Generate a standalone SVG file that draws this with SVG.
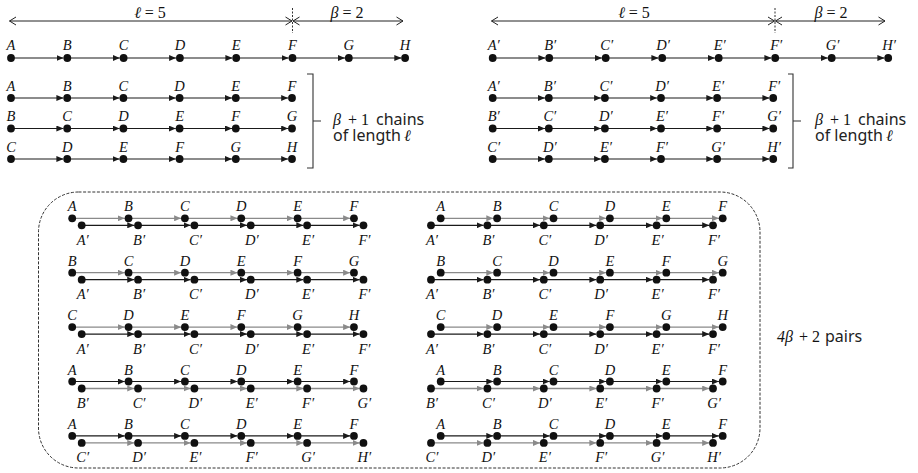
<svg xmlns="http://www.w3.org/2000/svg" width="918" height="473" viewBox="0 0 918 473">
<style>
.bg{fill:#fff}
.dot{fill:#111}
.lab{font-family:"Liberation Serif","DejaVu Serif",serif;font-style:italic;font-size:14.5px;text-anchor:middle;fill:#111}
.math{font-family:"Liberation Serif","DejaVu Serif",serif;font-size:16px;fill:#111}
.it{font-style:italic}
.txt{font-family:"Noto Sans","Liberation Sans",sans-serif;font-size:16px;fill:#222}
.k{stroke:#1a1a1a;stroke-width:1.2;marker-end:url(#ak)}
.g{stroke:#8a8a8a;stroke-width:1.3;marker-end:url(#ag)}
.dim{stroke:#222;stroke-width:1;fill:none;marker-start:url(#open);marker-end:url(#open)}
.dotted{stroke:#333;stroke-width:1;stroke-dasharray:2 1.5}
.br{stroke:#333;stroke-width:1.1;fill:none}
.box{fill:none;stroke:#333;stroke-width:1;stroke-dasharray:3 1.6}
</style>
<defs>
<marker id="ak" markerUnits="userSpaceOnUse" markerWidth="7" markerHeight="6" refX="7" refY="3" orient="auto"><path d="M0,0 L7,3 L0,6 z" fill="#1a1a1a"/></marker>
<marker id="ag" markerUnits="userSpaceOnUse" markerWidth="7" markerHeight="6" refX="7" refY="3" orient="auto"><path d="M0,0 L7,3 L0,6 z" fill="#8a8a8a"/></marker>
<marker id="open" markerUnits="userSpaceOnUse" markerWidth="8" markerHeight="10" refX="7" refY="5" orient="auto-start-reverse"><path d="M0.5,1 L7,5 L0.5,9" fill="none" stroke="#222" stroke-width="1"/></marker>
</defs>
<rect class="bg" width="918" height="473"/>

<!-- dimension arrows -->
<g id="dims">
<line class="dim" x1="9.5" y1="21" x2="292" y2="21"/>
<line class="dim" x1="293" y1="21" x2="403" y2="21"/>
<line class="dotted" x1="292.5" y1="8" x2="292.5" y2="33"/>
<text class="math" x="150" y="18" text-anchor="middle"><tspan class="it">ℓ</tspan> = 5</text>
<text class="math" x="347" y="18" text-anchor="middle"><tspan class="it">β</tspan> = 2</text>
<line class="dim" x1="491.5" y1="21" x2="774.5" y2="21"/>
<line class="dim" x1="775.5" y1="21" x2="885" y2="21"/>
<line class="dotted" x1="775" y1="8" x2="775" y2="33"/>
<text class="math" x="634" y="18" text-anchor="middle"><tspan class="it">ℓ</tspan> = 5</text>
<text class="math" x="831" y="18" text-anchor="middle"><tspan class="it">β</tspan> = 2</text>
</g>

<!-- connectors -->
<g id="connectors">
<g transform="translate(0,58)">
<line class="k" x1="11" y1="0" x2="63.5" y2="0"/><line class="k" x1="67.3" y1="0" x2="119.8" y2="0"/><line class="k" x1="123.6" y1="0" x2="176.1" y2="0"/><line class="k" x1="179.9" y1="0" x2="232.4" y2="0"/><line class="k" x1="236.2" y1="0" x2="288.7" y2="0"/><line class="k" x1="292.5" y1="0" x2="345" y2="0"/><line class="k" x1="348.8" y1="0" x2="401.3" y2="0"/>
<line class="k" x1="492.7" y1="0" x2="545.4" y2="0"/><line class="k" x1="549.2" y1="0" x2="601.9" y2="0"/><line class="k" x1="605.7" y1="0" x2="658.4" y2="0"/><line class="k" x1="662.2" y1="0" x2="714.9" y2="0"/><line class="k" x1="718.7" y1="0" x2="771.4" y2="0"/><line class="k" x1="775.2" y1="0" x2="827.9" y2="0"/><line class="k" x1="831.7" y1="0" x2="884.4" y2="0"/>
</g>
<g id="chainsegsL">
<line class="k" x1="11" y1="98" x2="63.4" y2="98"/><line class="k" x1="67.2" y1="98" x2="119.6" y2="98"/><line class="k" x1="123.4" y1="98" x2="175.8" y2="98"/><line class="k" x1="179.6" y1="98" x2="232" y2="98"/><line class="k" x1="235.8" y1="98" x2="288.2" y2="98"/>
<line class="k" x1="11" y1="128.5" x2="63.4" y2="128.5"/><line class="k" x1="67.2" y1="128.5" x2="119.6" y2="128.5"/><line class="k" x1="123.4" y1="128.5" x2="175.8" y2="128.5"/><line class="k" x1="179.6" y1="128.5" x2="232" y2="128.5"/><line class="k" x1="235.8" y1="128.5" x2="288.2" y2="128.5"/>
<line class="k" x1="11" y1="159" x2="63.4" y2="159"/><line class="k" x1="67.2" y1="159" x2="119.6" y2="159"/><line class="k" x1="123.4" y1="159" x2="175.8" y2="159"/><line class="k" x1="179.6" y1="159" x2="232" y2="159"/><line class="k" x1="235.8" y1="159" x2="288.2" y2="159"/>
</g>
<g id="chainsegsR">
<line class="k" x1="492.7" y1="98" x2="545" y2="98"/><line class="k" x1="548.8" y1="98" x2="601.1" y2="98"/><line class="k" x1="604.9" y1="98" x2="657.2" y2="98"/><line class="k" x1="661" y1="98" x2="713.3" y2="98"/><line class="k" x1="717.1" y1="98" x2="769.4" y2="98"/>
<line class="k" x1="492.7" y1="128.5" x2="545" y2="128.5"/><line class="k" x1="548.8" y1="128.5" x2="601.1" y2="128.5"/><line class="k" x1="604.9" y1="128.5" x2="657.2" y2="128.5"/><line class="k" x1="661" y1="128.5" x2="713.3" y2="128.5"/><line class="k" x1="717.1" y1="128.5" x2="769.4" y2="128.5"/>
<line class="k" x1="492.7" y1="159" x2="545" y2="159"/><line class="k" x1="548.8" y1="159" x2="601.1" y2="159"/><line class="k" x1="604.9" y1="159" x2="657.2" y2="159"/><line class="k" x1="661" y1="159" x2="713.3" y2="159"/><line class="k" x1="717.1" y1="159" x2="769.4" y2="159"/>
</g>

<!-- pair segments: upper rows -->
<g id="pu1" transform="translate(0,218.3)">
<line class="g" x1="72.2" y1="0" x2="124.75" y2="0"/><line class="g" x1="128.55" y1="0" x2="181.1" y2="0"/><line class="g" x1="184.9" y1="0" x2="237.45" y2="0"/><line class="g" x1="241.25" y1="0" x2="293.8" y2="0"/><line class="g" x1="297.6" y1="0" x2="350.15" y2="0"/>
<line class="g" x1="440.7" y1="0" x2="493.3" y2="0"/><line class="g" x1="497.1" y1="0" x2="549.7" y2="0"/><line class="g" x1="553.5" y1="0" x2="606.1" y2="0"/><line class="g" x1="609.9" y1="0" x2="662.5" y2="0"/><line class="g" x1="666.3" y1="0" x2="718.9" y2="0"/>
</g>
<g id="pu2" transform="translate(0,272.7)">
<line class="g" x1="72.2" y1="0" x2="124.75" y2="0"/><line class="g" x1="128.55" y1="0" x2="181.1" y2="0"/><line class="g" x1="184.9" y1="0" x2="237.45" y2="0"/><line class="g" x1="241.25" y1="0" x2="293.8" y2="0"/><line class="g" x1="297.6" y1="0" x2="350.15" y2="0"/>
<line class="g" x1="440.7" y1="0" x2="493.3" y2="0"/><line class="g" x1="497.1" y1="0" x2="549.7" y2="0"/><line class="g" x1="553.5" y1="0" x2="606.1" y2="0"/><line class="g" x1="609.9" y1="0" x2="662.5" y2="0"/><line class="g" x1="666.3" y1="0" x2="718.9" y2="0"/>
</g>
<g id="pu3" transform="translate(0,327.1)">
<line class="g" x1="72.2" y1="0" x2="124.75" y2="0"/><line class="g" x1="128.55" y1="0" x2="181.1" y2="0"/><line class="g" x1="184.9" y1="0" x2="237.45" y2="0"/><line class="g" x1="241.25" y1="0" x2="293.8" y2="0"/><line class="g" x1="297.6" y1="0" x2="350.15" y2="0"/>
<line class="g" x1="440.7" y1="0" x2="493.3" y2="0"/><line class="g" x1="497.1" y1="0" x2="549.7" y2="0"/><line class="g" x1="553.5" y1="0" x2="606.1" y2="0"/><line class="g" x1="609.9" y1="0" x2="662.5" y2="0"/><line class="g" x1="666.3" y1="0" x2="718.9" y2="0"/>
</g>
<g id="pu4" transform="translate(0,381.5)">
<line class="k" x1="72.2" y1="0" x2="124.75" y2="0"/><line class="k" x1="128.55" y1="0" x2="181.1" y2="0"/><line class="k" x1="184.9" y1="0" x2="237.45" y2="0"/><line class="k" x1="241.25" y1="0" x2="293.8" y2="0"/><line class="k" x1="297.6" y1="0" x2="350.15" y2="0"/>
<line class="k" x1="440.7" y1="0" x2="493.3" y2="0"/><line class="k" x1="497.1" y1="0" x2="549.7" y2="0"/><line class="k" x1="553.5" y1="0" x2="606.1" y2="0"/><line class="k" x1="609.9" y1="0" x2="662.5" y2="0"/><line class="k" x1="666.3" y1="0" x2="718.9" y2="0"/>
</g>
<g id="pu5" transform="translate(0,435.9)">
<line class="k" x1="72.2" y1="0" x2="124.75" y2="0"/><line class="k" x1="128.55" y1="0" x2="181.1" y2="0"/><line class="k" x1="184.9" y1="0" x2="237.45" y2="0"/><line class="k" x1="241.25" y1="0" x2="293.8" y2="0"/><line class="k" x1="297.6" y1="0" x2="350.15" y2="0"/>
<line class="k" x1="440.7" y1="0" x2="493.3" y2="0"/><line class="k" x1="497.1" y1="0" x2="549.7" y2="0"/><line class="k" x1="553.5" y1="0" x2="606.1" y2="0"/><line class="k" x1="609.9" y1="0" x2="662.5" y2="0"/><line class="k" x1="666.3" y1="0" x2="718.9" y2="0"/>
</g>
<!-- pair segments: lower rows -->
<g id="pl1" transform="translate(0,225.3)">
<line class="k" x1="81.7" y1="0" x2="134.25" y2="0"/><line class="k" x1="138.05" y1="0" x2="190.6" y2="0"/><line class="k" x1="194.4" y1="0" x2="246.95" y2="0"/><line class="k" x1="250.75" y1="0" x2="303.3" y2="0"/><line class="k" x1="307.1" y1="0" x2="359.65" y2="0"/>
<line class="k" x1="431" y1="0" x2="483.6" y2="0"/><line class="k" x1="487.4" y1="0" x2="540" y2="0"/><line class="k" x1="543.8" y1="0" x2="596.4" y2="0"/><line class="k" x1="600.2" y1="0" x2="652.8" y2="0"/><line class="k" x1="656.6" y1="0" x2="709.2" y2="0"/>
</g>
<g id="pl2" transform="translate(0,279.7)">
<line class="k" x1="81.7" y1="0" x2="134.25" y2="0"/><line class="k" x1="138.05" y1="0" x2="190.6" y2="0"/><line class="k" x1="194.4" y1="0" x2="246.95" y2="0"/><line class="k" x1="250.75" y1="0" x2="303.3" y2="0"/><line class="k" x1="307.1" y1="0" x2="359.65" y2="0"/>
<line class="k" x1="431" y1="0" x2="483.6" y2="0"/><line class="k" x1="487.4" y1="0" x2="540" y2="0"/><line class="k" x1="543.8" y1="0" x2="596.4" y2="0"/><line class="k" x1="600.2" y1="0" x2="652.8" y2="0"/><line class="k" x1="656.6" y1="0" x2="709.2" y2="0"/>
</g>
<g id="pl3" transform="translate(0,334.1)">
<line class="k" x1="81.7" y1="0" x2="134.25" y2="0"/><line class="k" x1="138.05" y1="0" x2="190.6" y2="0"/><line class="k" x1="194.4" y1="0" x2="246.95" y2="0"/><line class="k" x1="250.75" y1="0" x2="303.3" y2="0"/><line class="k" x1="307.1" y1="0" x2="359.65" y2="0"/>
<line class="k" x1="431" y1="0" x2="483.6" y2="0"/><line class="k" x1="487.4" y1="0" x2="540" y2="0"/><line class="k" x1="543.8" y1="0" x2="596.4" y2="0"/><line class="k" x1="600.2" y1="0" x2="652.8" y2="0"/><line class="k" x1="656.6" y1="0" x2="709.2" y2="0"/>
</g>
<g id="pl4" transform="translate(0,388.5)">
<line class="g" x1="81.7" y1="0" x2="134.25" y2="0"/><line class="g" x1="138.05" y1="0" x2="190.6" y2="0"/><line class="g" x1="194.4" y1="0" x2="246.95" y2="0"/><line class="g" x1="250.75" y1="0" x2="303.3" y2="0"/><line class="g" x1="307.1" y1="0" x2="359.65" y2="0"/>
<line class="g" x1="431" y1="0" x2="483.6" y2="0"/><line class="g" x1="487.4" y1="0" x2="540" y2="0"/><line class="g" x1="543.8" y1="0" x2="596.4" y2="0"/><line class="g" x1="600.2" y1="0" x2="652.8" y2="0"/><line class="g" x1="656.6" y1="0" x2="709.2" y2="0"/>
</g>
<g id="pl5" transform="translate(0,442.9)">
<line class="g" x1="81.7" y1="0" x2="134.25" y2="0"/><line class="g" x1="138.05" y1="0" x2="190.6" y2="0"/><line class="g" x1="194.4" y1="0" x2="246.95" y2="0"/><line class="g" x1="250.75" y1="0" x2="303.3" y2="0"/><line class="g" x1="307.1" y1="0" x2="359.65" y2="0"/>
<line class="g" x1="431" y1="0" x2="483.6" y2="0"/><line class="g" x1="487.4" y1="0" x2="540" y2="0"/><line class="g" x1="543.8" y1="0" x2="596.4" y2="0"/><line class="g" x1="600.2" y1="0" x2="652.8" y2="0"/><line class="g" x1="656.6" y1="0" x2="709.2" y2="0"/>
</g>
</g>

<!-- top rows -->
<g id="row-top-left">
<g class="dot"><circle cx="11" cy="58" r="3.9"/><circle cx="67.3" cy="58" r="3.9"/><circle cx="123.6" cy="58" r="3.9"/><circle cx="179.9" cy="58" r="3.9"/><circle cx="236.2" cy="58" r="3.9"/><circle cx="292.5" cy="58" r="3.9"/><circle cx="348.8" cy="58" r="3.9"/><circle cx="405.1" cy="58" r="3.9"/></g>
<g class="lab"><text x="11" y="50">A</text><text x="67.3" y="50">B</text><text x="123.6" y="50">C</text><text x="179.9" y="50">D</text><text x="236.2" y="50">E</text><text x="292.5" y="50">F</text><text x="348.8" y="50">G</text><text x="405.1" y="50">H</text></g>
</g>
<g id="row-top-right">
<g class="dot"><circle cx="492.7" cy="58" r="3.9"/><circle cx="549.2" cy="58" r="3.9"/><circle cx="605.7" cy="58" r="3.9"/><circle cx="662.2" cy="58" r="3.9"/><circle cx="718.7" cy="58" r="3.9"/><circle cx="775.2" cy="58" r="3.9"/><circle cx="831.7" cy="58" r="3.9"/><circle cx="888.2" cy="58" r="3.9"/></g>
<g class="lab"><text x="493.7" y="50">A′</text><text x="550.2" y="50">B′</text><text x="606.7" y="50">C′</text><text x="663.2" y="50">D′</text><text x="719.7" y="50">E′</text><text x="776.2" y="50">F′</text><text x="832.7" y="50">G′</text><text x="889.2" y="50">H′</text></g>
</g>

<!-- chains left -->
<g id="chains-left">
<g class="dot">
<circle cx="11" cy="98" r="3.9"/><circle cx="67.2" cy="98" r="3.9"/><circle cx="123.4" cy="98" r="3.9"/><circle cx="179.6" cy="98" r="3.9"/><circle cx="235.8" cy="98" r="3.9"/><circle cx="292" cy="98" r="3.9"/>
<circle cx="11" cy="128.5" r="3.9"/><circle cx="67.2" cy="128.5" r="3.9"/><circle cx="123.4" cy="128.5" r="3.9"/><circle cx="179.6" cy="128.5" r="3.9"/><circle cx="235.8" cy="128.5" r="3.9"/><circle cx="292" cy="128.5" r="3.9"/>
<circle cx="11" cy="159" r="3.9"/><circle cx="67.2" cy="159" r="3.9"/><circle cx="123.4" cy="159" r="3.9"/><circle cx="179.6" cy="159" r="3.9"/><circle cx="235.8" cy="159" r="3.9"/><circle cx="292" cy="159" r="3.9"/>
</g>
<g class="lab">
<text x="11" y="90.5">A</text><text x="67.2" y="90.5">B</text><text x="123.4" y="90.5">C</text><text x="179.6" y="90.5">D</text><text x="235.8" y="90.5">E</text><text x="292" y="90.5">F</text>
<text x="11" y="121">B</text><text x="67.2" y="121">C</text><text x="123.4" y="121">D</text><text x="179.6" y="121">E</text><text x="235.8" y="121">F</text><text x="292" y="121">G</text>
<text x="11" y="151.5">C</text><text x="67.2" y="151.5">D</text><text x="123.4" y="151.5">E</text><text x="179.6" y="151.5">F</text><text x="235.8" y="151.5">G</text><text x="292" y="151.5">H</text>
</g>
<path class="br" d="M307,74 H313 V168 H307 M313,121 H321"/>
<text class="math it" x="333" y="125">β</text>
<text class="math" x="348" y="125">+ 1</text>
<text class="txt" x="376" y="125">chains</text>
<text class="txt" x="333" y="141">of length</text>
<text class="math it" x="404" y="141">ℓ</text>
</g>

<!-- chains right -->
<g id="chains-right">
<g class="dot">
<circle cx="492.7" cy="98" r="3.9"/><circle cx="548.8" cy="98" r="3.9"/><circle cx="604.9" cy="98" r="3.9"/><circle cx="661" cy="98" r="3.9"/><circle cx="717.1" cy="98" r="3.9"/><circle cx="773.2" cy="98" r="3.9"/>
<circle cx="492.7" cy="128.5" r="3.9"/><circle cx="548.8" cy="128.5" r="3.9"/><circle cx="604.9" cy="128.5" r="3.9"/><circle cx="661" cy="128.5" r="3.9"/><circle cx="717.1" cy="128.5" r="3.9"/><circle cx="773.2" cy="128.5" r="3.9"/>
<circle cx="492.7" cy="159" r="3.9"/><circle cx="548.8" cy="159" r="3.9"/><circle cx="604.9" cy="159" r="3.9"/><circle cx="661" cy="159" r="3.9"/><circle cx="717.1" cy="159" r="3.9"/><circle cx="773.2" cy="159" r="3.9"/>
</g>
<g class="lab">
<text x="493.7" y="90.5">A′</text><text x="549.8" y="90.5">B′</text><text x="605.9" y="90.5">C′</text><text x="662" y="90.5">D′</text><text x="718.1" y="90.5">E′</text><text x="774.2" y="90.5">F′</text>
<text x="493.7" y="121">B′</text><text x="549.8" y="121">C′</text><text x="605.9" y="121">D′</text><text x="662" y="121">E′</text><text x="718.1" y="121">F′</text><text x="774.2" y="121">G′</text>
<text x="493.7" y="151.5">C′</text><text x="549.8" y="151.5">D′</text><text x="605.9" y="151.5">E′</text><text x="662" y="151.5">F′</text><text x="718.1" y="151.5">G′</text><text x="774.2" y="151.5">H′</text>
</g>
<path class="br" d="M788,74 H793 V168 H788 M793,121 H801"/>
<text class="math it" x="815" y="125">β</text>
<text class="math" x="830" y="125">+ 1</text>
<text class="txt" x="858" y="125">chains</text>
<text class="txt" x="815" y="141">of length</text>
<text class="math it" x="886" y="141">ℓ</text>
</g>

<!-- pairs box -->
<rect id="pairs-box" class="box" x="38.5" y="192" width="721.5" height="276" rx="40" ry="40"/>
<g id="pairs-label">
<text class="math it" x="777" y="342">4β</text>
<text class="math" x="799" y="342">+ 2</text>
<text class="txt" x="825" y="342">pairs</text>
</g>

<!-- pair dots -->
<g id="pair-dots" class="dot">
<g transform="translate(0,218.3)"><circle cx="72.2" r="3.9"/><circle cx="128.55" r="3.9"/><circle cx="184.9" r="3.9"/><circle cx="241.25" r="3.9"/><circle cx="297.6" r="3.9"/><circle cx="353.95" r="3.9"/><circle cx="440.7" r="3.9"/><circle cx="497.1" r="3.9"/><circle cx="553.5" r="3.9"/><circle cx="609.9" r="3.9"/><circle cx="666.3" r="3.9"/><circle cx="722.7" r="3.9"/></g>
<g transform="translate(0,272.7)"><circle cx="72.2" r="3.9"/><circle cx="128.55" r="3.9"/><circle cx="184.9" r="3.9"/><circle cx="241.25" r="3.9"/><circle cx="297.6" r="3.9"/><circle cx="353.95" r="3.9"/><circle cx="440.7" r="3.9"/><circle cx="497.1" r="3.9"/><circle cx="553.5" r="3.9"/><circle cx="609.9" r="3.9"/><circle cx="666.3" r="3.9"/><circle cx="722.7" r="3.9"/></g>
<g transform="translate(0,327.1)"><circle cx="72.2" r="3.9"/><circle cx="128.55" r="3.9"/><circle cx="184.9" r="3.9"/><circle cx="241.25" r="3.9"/><circle cx="297.6" r="3.9"/><circle cx="353.95" r="3.9"/><circle cx="440.7" r="3.9"/><circle cx="497.1" r="3.9"/><circle cx="553.5" r="3.9"/><circle cx="609.9" r="3.9"/><circle cx="666.3" r="3.9"/><circle cx="722.7" r="3.9"/></g>
<g transform="translate(0,381.5)"><circle cx="72.2" r="3.9"/><circle cx="128.55" r="3.9"/><circle cx="184.9" r="3.9"/><circle cx="241.25" r="3.9"/><circle cx="297.6" r="3.9"/><circle cx="353.95" r="3.9"/><circle cx="440.7" r="3.9"/><circle cx="497.1" r="3.9"/><circle cx="553.5" r="3.9"/><circle cx="609.9" r="3.9"/><circle cx="666.3" r="3.9"/><circle cx="722.7" r="3.9"/></g>
<g transform="translate(0,435.9)"><circle cx="72.2" r="3.9"/><circle cx="128.55" r="3.9"/><circle cx="184.9" r="3.9"/><circle cx="241.25" r="3.9"/><circle cx="297.6" r="3.9"/><circle cx="353.95" r="3.9"/><circle cx="440.7" r="3.9"/><circle cx="497.1" r="3.9"/><circle cx="553.5" r="3.9"/><circle cx="609.9" r="3.9"/><circle cx="666.3" r="3.9"/><circle cx="722.7" r="3.9"/></g>
<g transform="translate(0,225.3)"><circle cx="81.7" r="3.9"/><circle cx="138.05" r="3.9"/><circle cx="194.4" r="3.9"/><circle cx="250.75" r="3.9"/><circle cx="307.1" r="3.9"/><circle cx="363.45" r="3.9"/><circle cx="431" r="3.9"/><circle cx="487.4" r="3.9"/><circle cx="543.8" r="3.9"/><circle cx="600.2" r="3.9"/><circle cx="656.6" r="3.9"/><circle cx="713" r="3.9"/></g>
<g transform="translate(0,279.7)"><circle cx="81.7" r="3.9"/><circle cx="138.05" r="3.9"/><circle cx="194.4" r="3.9"/><circle cx="250.75" r="3.9"/><circle cx="307.1" r="3.9"/><circle cx="363.45" r="3.9"/><circle cx="431" r="3.9"/><circle cx="487.4" r="3.9"/><circle cx="543.8" r="3.9"/><circle cx="600.2" r="3.9"/><circle cx="656.6" r="3.9"/><circle cx="713" r="3.9"/></g>
<g transform="translate(0,334.1)"><circle cx="81.7" r="3.9"/><circle cx="138.05" r="3.9"/><circle cx="194.4" r="3.9"/><circle cx="250.75" r="3.9"/><circle cx="307.1" r="3.9"/><circle cx="363.45" r="3.9"/><circle cx="431" r="3.9"/><circle cx="487.4" r="3.9"/><circle cx="543.8" r="3.9"/><circle cx="600.2" r="3.9"/><circle cx="656.6" r="3.9"/><circle cx="713" r="3.9"/></g>
<g transform="translate(0,388.5)"><circle cx="81.7" r="3.9"/><circle cx="138.05" r="3.9"/><circle cx="194.4" r="3.9"/><circle cx="250.75" r="3.9"/><circle cx="307.1" r="3.9"/><circle cx="363.45" r="3.9"/><circle cx="431" r="3.9"/><circle cx="487.4" r="3.9"/><circle cx="543.8" r="3.9"/><circle cx="600.2" r="3.9"/><circle cx="656.6" r="3.9"/><circle cx="713" r="3.9"/></g>
<g transform="translate(0,442.9)"><circle cx="81.7" r="3.9"/><circle cx="138.05" r="3.9"/><circle cx="194.4" r="3.9"/><circle cx="250.75" r="3.9"/><circle cx="307.1" r="3.9"/><circle cx="363.45" r="3.9"/><circle cx="431" r="3.9"/><circle cx="487.4" r="3.9"/><circle cx="543.8" r="3.9"/><circle cx="600.2" r="3.9"/><circle cx="656.6" r="3.9"/><circle cx="713" r="3.9"/></g>
</g>

<!-- pair labels -->
<g id="pair-labels" class="lab">
<g transform="translate(0,211.3)"><text x="72.2">A</text><text x="128.55">B</text><text x="184.9">C</text><text x="241.25">D</text><text x="297.6">E</text><text x="353.95">F</text><text x="440.7">A</text><text x="497.1">B</text><text x="553.5">C</text><text x="609.9">D</text><text x="666.3">E</text><text x="722.7">F</text></g>
<g transform="translate(0,265.7)"><text x="72.2">B</text><text x="128.55">C</text><text x="184.9">D</text><text x="241.25">E</text><text x="297.6">F</text><text x="353.95">G</text><text x="440.7">B</text><text x="497.1">C</text><text x="553.5">D</text><text x="609.9">E</text><text x="666.3">F</text><text x="722.7">G</text></g>
<g transform="translate(0,320.1)"><text x="72.2">C</text><text x="128.55">D</text><text x="184.9">E</text><text x="241.25">F</text><text x="297.6">G</text><text x="353.95">H</text><text x="440.7">C</text><text x="497.1">D</text><text x="553.5">E</text><text x="609.9">F</text><text x="666.3">G</text><text x="722.7">H</text></g>
<g transform="translate(0,374.5)"><text x="72.2">A</text><text x="128.55">B</text><text x="184.9">C</text><text x="241.25">D</text><text x="297.6">E</text><text x="353.95">F</text><text x="440.7">A</text><text x="497.1">B</text><text x="553.5">C</text><text x="609.9">D</text><text x="666.3">E</text><text x="722.7">F</text></g>
<g transform="translate(0,428.9)"><text x="72.2">A</text><text x="128.55">B</text><text x="184.9">C</text><text x="241.25">D</text><text x="297.6">E</text><text x="353.95">F</text><text x="440.7">A</text><text x="497.1">B</text><text x="553.5">C</text><text x="609.9">D</text><text x="666.3">E</text><text x="722.7">F</text></g>
<g transform="translate(1,244.8)"><text x="81.7">A′</text><text x="138.05">B′</text><text x="194.4">C′</text><text x="250.75">D′</text><text x="307.1">E′</text><text x="363.45">F′</text><text x="431">A′</text><text x="487.4">B′</text><text x="543.8">C′</text><text x="600.2">D′</text><text x="656.6">E′</text><text x="713">F′</text></g>
<g transform="translate(1,299.2)"><text x="81.7">A′</text><text x="138.05">B′</text><text x="194.4">C′</text><text x="250.75">D′</text><text x="307.1">E′</text><text x="363.45">F′</text><text x="431">A′</text><text x="487.4">B′</text><text x="543.8">C′</text><text x="600.2">D′</text><text x="656.6">E′</text><text x="713">F′</text></g>
<g transform="translate(1,353.6)"><text x="81.7">A′</text><text x="138.05">B′</text><text x="194.4">C′</text><text x="250.75">D′</text><text x="307.1">E′</text><text x="363.45">F′</text><text x="431">A′</text><text x="487.4">B′</text><text x="543.8">C′</text><text x="600.2">D′</text><text x="656.6">E′</text><text x="713">F′</text></g>
<g transform="translate(1,408)"><text x="81.7">B′</text><text x="138.05">C′</text><text x="194.4">D′</text><text x="250.75">E′</text><text x="307.1">F′</text><text x="363.45">G′</text><text x="431">B′</text><text x="487.4">C′</text><text x="543.8">D′</text><text x="600.2">E′</text><text x="656.6">F′</text><text x="713">G′</text></g>
<g transform="translate(1,461.9)"><text x="81.7">C′</text><text x="138.05">D′</text><text x="194.4">E′</text><text x="250.75">F′</text><text x="307.1">G′</text><text x="363.45">H′</text><text x="431">C′</text><text x="487.4">D′</text><text x="543.8">E′</text><text x="600.2">F′</text><text x="656.6">G′</text><text x="713">H′</text></g>
</g>
</svg>
